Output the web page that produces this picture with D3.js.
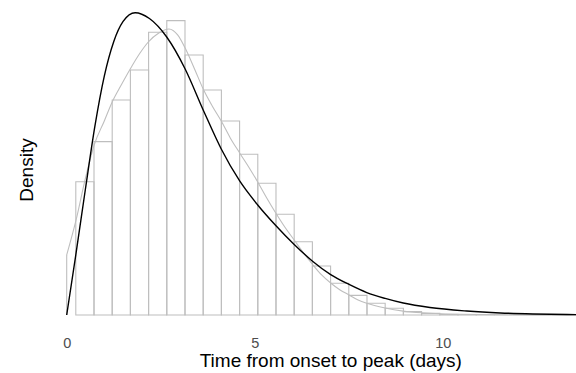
<!DOCTYPE html>
<html>
<head>
<meta charset="utf-8">
<script src="https://cdn.jsdelivr.net/npm/d3@7"></script>
<style>
  html, body { margin: 0; padding: 0; background: #fff; }
  svg { display: block; font-family: "Liberation Sans", Arial, Helvetica, sans-serif; }
</style>
</head>
<body>
<svg id="chart" width="576" height="373"></svg>
<script>
// Histogram of onset-to-peak times (density scale), bins of 0.484 days
const binWidth = 0.484;
const firstBinStart = 0.242;
const histDensity = [
  0.1038, 0.1350, 0.1674, 0.1908, 0.2202, 0.2292, 0.2025, 0.1752, 0.1511, 0.1252,
  0.1026, 0.0784, 0.0571, 0.0382, 0.0247, 0.0153, 0.0091, 0.0052, 0.0026, 0.0013,
  0.0005, 0.0002, 0.0001, 0, 0, 0, 0, 0, 0
];

// Kernel density estimate of the same sample (grey line)
const kdeDays = [
  0, 0.25, 0.5, 0.73, 1.0, 1.21, 1.45, 1.69, 1.95, 2.17, 2.45, 2.72, 2.95, 3.15, 3.4,
  3.63, 3.87, 4.11, 4.35, 4.6, 4.84, 5.08, 5.32, 5.56, 5.8, 6.05, 6.3, 6.53, 6.78,
  7.02, 7.27, 7.51, 7.75, 7.98, 8.47, 8.95, 9.45, 9.95, 10.5, 11.0, 12.0, 13.0, 14.05
];
const kdeDensity = [
  0.0467, 0.0740, 0.1067, 0.1324, 0.1511, 0.1659, 0.1791, 0.1916, 0.2040, 0.2126,
  0.2196, 0.2227, 0.2181, 0.2079, 0.1916, 0.1760, 0.1628, 0.1511, 0.1379, 0.1262,
  0.1153, 0.1036, 0.0911, 0.0794, 0.0685, 0.0584, 0.0483, 0.0397, 0.0312, 0.0249,
  0.0195, 0.0156, 0.0117, 0.0091, 0.0054, 0.0030, 0.0017, 0.0010, 0.0006, 0.0004,
  0.0002, 0.0001, 0
];

// Fitted distribution (black line)
const fitDays = [
  0, 0.25, 0.5, 0.75, 1.0, 1.25, 1.5, 1.82, 2.2, 2.66, 3.15, 3.63, 4.11, 4.6, 5.08,
  5.56, 6.05, 6.53, 7.02, 7.51, 7.98, 8.47, 8.95, 9.66, 10.64, 11.53, 12.4, 13.55, 14.05
];
const fitDensity = [
  0, 0.0483, 0.0985, 0.1470, 0.1860, 0.2128, 0.2286, 0.2354, 0.2309, 0.2165, 0.1916,
  0.1597, 0.1293, 0.1044, 0.0857, 0.0697, 0.0549, 0.0421, 0.0315, 0.0238, 0.0175,
  0.0129, 0.0093, 0.0058, 0.0031, 0.0016, 0.0008, 0.0003, 0.0002
];

const xTicks = [0, 5, 10];
const xTitle = "Time from onset to peak (days)";
const yTitle = "Density";

const svg = d3.select("#chart");
const panel = { left: 66.7, right: 595, top: 0, bottom: 315 };

const x = d3.scaleLinear().domain([0, 14.05]).range([panel.left, panel.right]);
const y = d3.scaleLinear().domain([0, 0.2453]).range([panel.bottom, panel.top]);

const grey = "#BEBEBE";

svg.append("defs").append("clipPath").attr("id", "panel-clip")
  .append("rect")
  .attr("x", panel.left - 1).attr("y", panel.top - 2)
  .attr("width", panel.right - panel.left + 2).attr("height", panel.bottom - panel.top + 4);

const g = svg.append("g").attr("clip-path", "url(#panel-clip)");

// Histogram bars as outlined paths (empty bins still show their base line)
const bins = histDensity.map((d, i) => ({
  x0: firstBinStart + i * binWidth,
  x1: firstBinStart + (i + 1) * binWidth,
  d
}));
g.selectAll("path.bar")
  .data(bins)
  .join("path")
  .attr("class", "bar")
  .attr("d", b => {
    const p = d3.path();
    p.moveTo(x(b.x0), y(0));
    p.lineTo(x(b.x0), y(b.d));
    p.lineTo(x(b.x1), y(b.d));
    p.lineTo(x(b.x1), y(0));
    p.closePath();
    return p.toString();
  })
  .attr("fill", "none")
  .attr("stroke", grey)
  .attr("stroke-width", 1.1);

// Grey density curve, with its left edge dropping to the axis
const kde = kdeDays.map((t, i) => ({ t, d: kdeDensity[i] }));
g.append("path")
  .attr("d", d3.line()([[x(kde[0].t), y(0)], [x(kde[0].t), y(kde[0].d)]]))
  .attr("fill", "none").attr("stroke", grey).attr("stroke-width", 1.1);
g.append("path")
  .datum(kde)
  .attr("d", d3.line().x(p => x(p.t)).y(p => y(p.d)).curve(d3.curveMonotoneX))
  .attr("fill", "none")
  .attr("stroke", grey)
  .attr("stroke-width", 1.1);

// Fitted density
const fit = fitDays.map((t, i) => ({ t, d: fitDensity[i] }));
g.append("path")
  .datum(fit)
  .attr("d", d3.line().x(p => x(p.t)).y(p => y(p.d)).curve(d3.curveMonotoneX))
  .attr("fill", "none")
  .attr("stroke", "#000")
  .attr("stroke-width", 1.4);

// X axis: labels only
const xAxis = svg.append("g")
  .attr("transform", `translate(0,${panel.bottom})`)
  .call(d3.axisBottom(x).tickValues(xTicks).tickFormat(d3.format("d")).tickSize(0).tickPadding(23));
xAxis.select(".domain").remove();
xAxis.selectAll("text")
  .attr("fill", "#4D4D4D")
  .attr("font-size", "14.5px")
  .attr("font-family", "'Liberation Sans', Arial, Helvetica, sans-serif");

svg.append("text")
  .attr("x", (panel.left + panel.right) / 2)
  .attr("y", 367)
  .attr("text-anchor", "middle")
  .attr("font-size", "19px")
  .attr("fill", "#000")
  .text(xTitle);

svg.append("text")
  .attr("transform", `translate(33,170) rotate(-90)`)
  .attr("text-anchor", "middle")
  .attr("font-size", "19px")
  .attr("fill", "#000")
  .text(yTitle);
</script>
</body>
</html>
